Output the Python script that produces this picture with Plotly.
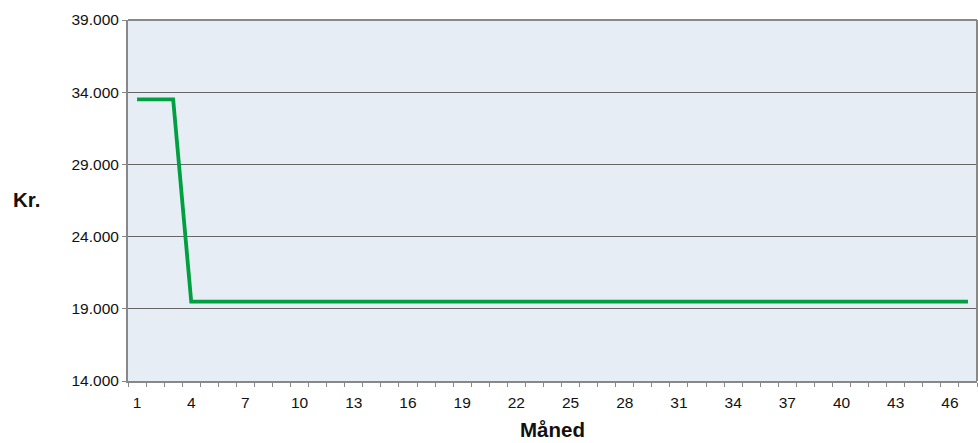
import plotly.graph_objects as go

months = list(range(1, 48))
values = [33500] * 3 + [19500] * 44
x_tick_vals = list(range(1, 48, 3))
y_tick_vals = [14000, 19000, 24000, 29000, 34000, 39000]
y_tick_text = ["14.000", "19.000", "24.000", "29.000", "34.000", "39.000"]

fig = go.Figure()
fig.add_trace(go.Scatter(
    x=months, y=values, mode="lines",
    line=dict(color="#00a040", width=3.8),
    hoverinfo="skip", showlegend=False,
))

font = dict(family="Liberation Sans, Arial, sans-serif", size=15.5, color="#111")
title_font = dict(family="Liberation Sans, Arial, sans-serif", size=20.5, color="#111")

fig.update_layout(
    width=978, height=443,
    margin=dict(l=128, r=1, t=20, b=62),
    paper_bgcolor="white",
    plot_bgcolor="#e6edf5",
    font=font,
    xaxis=dict(
        range=[0.5, 47.5],
        tickvals=x_tick_vals,
        ticktext=[str(v) for v in x_tick_vals],
        ticks="outside", ticklen=6, tickcolor="rgba(0,0,0,0)",
        showgrid=False,
        zeroline=False,
        showline=True, linecolor="#888", linewidth=2,
        mirror=False,
        minor=dict(ticks="outside", tick0=0.5, dtick=1, ticklen=4,
                   tickcolor="#888", tickwidth=1, showgrid=False),
        tickfont=font,
    ),
    yaxis=dict(
        range=[14000, 39000],
        tickvals=y_tick_vals,
        ticktext=y_tick_text,
        ticks="outside", ticklen=4, tickcolor="#888", tickwidth=1,
        showgrid=True, gridcolor="#666", gridwidth=1,
        zeroline=False,
        showline=True, linecolor="#888", linewidth=2,
        tickfont=font,
    ),
    shapes=[
        dict(type="line", xref="paper", yref="paper", x0=1, x1=1, y0=0, y1=1,
             line=dict(color="#888", width=2)),
        dict(type="line", xref="paper", yref="paper", x0=0, x1=1, y0=1, y1=1,
             line=dict(color="#888", width=2)),
    ],
    annotations=[
        dict(text="<b>Kr.</b>", xref="paper", yref="paper", x=-0.101, y=0.504,
             xanchor="right", yanchor="middle", showarrow=False,
             font=title_font),
        dict(text="<b>Måned</b>", xref="paper", yref="paper", x=0.5, y=-0.096,
             xanchor="center", yanchor="top", showarrow=False,
             font=title_font),
    ],
)

fig.write_html("out.html", config={"displayModeBar": False},
               post_script="document.body.style.margin='0';document.body.style.overflow='hidden';")
